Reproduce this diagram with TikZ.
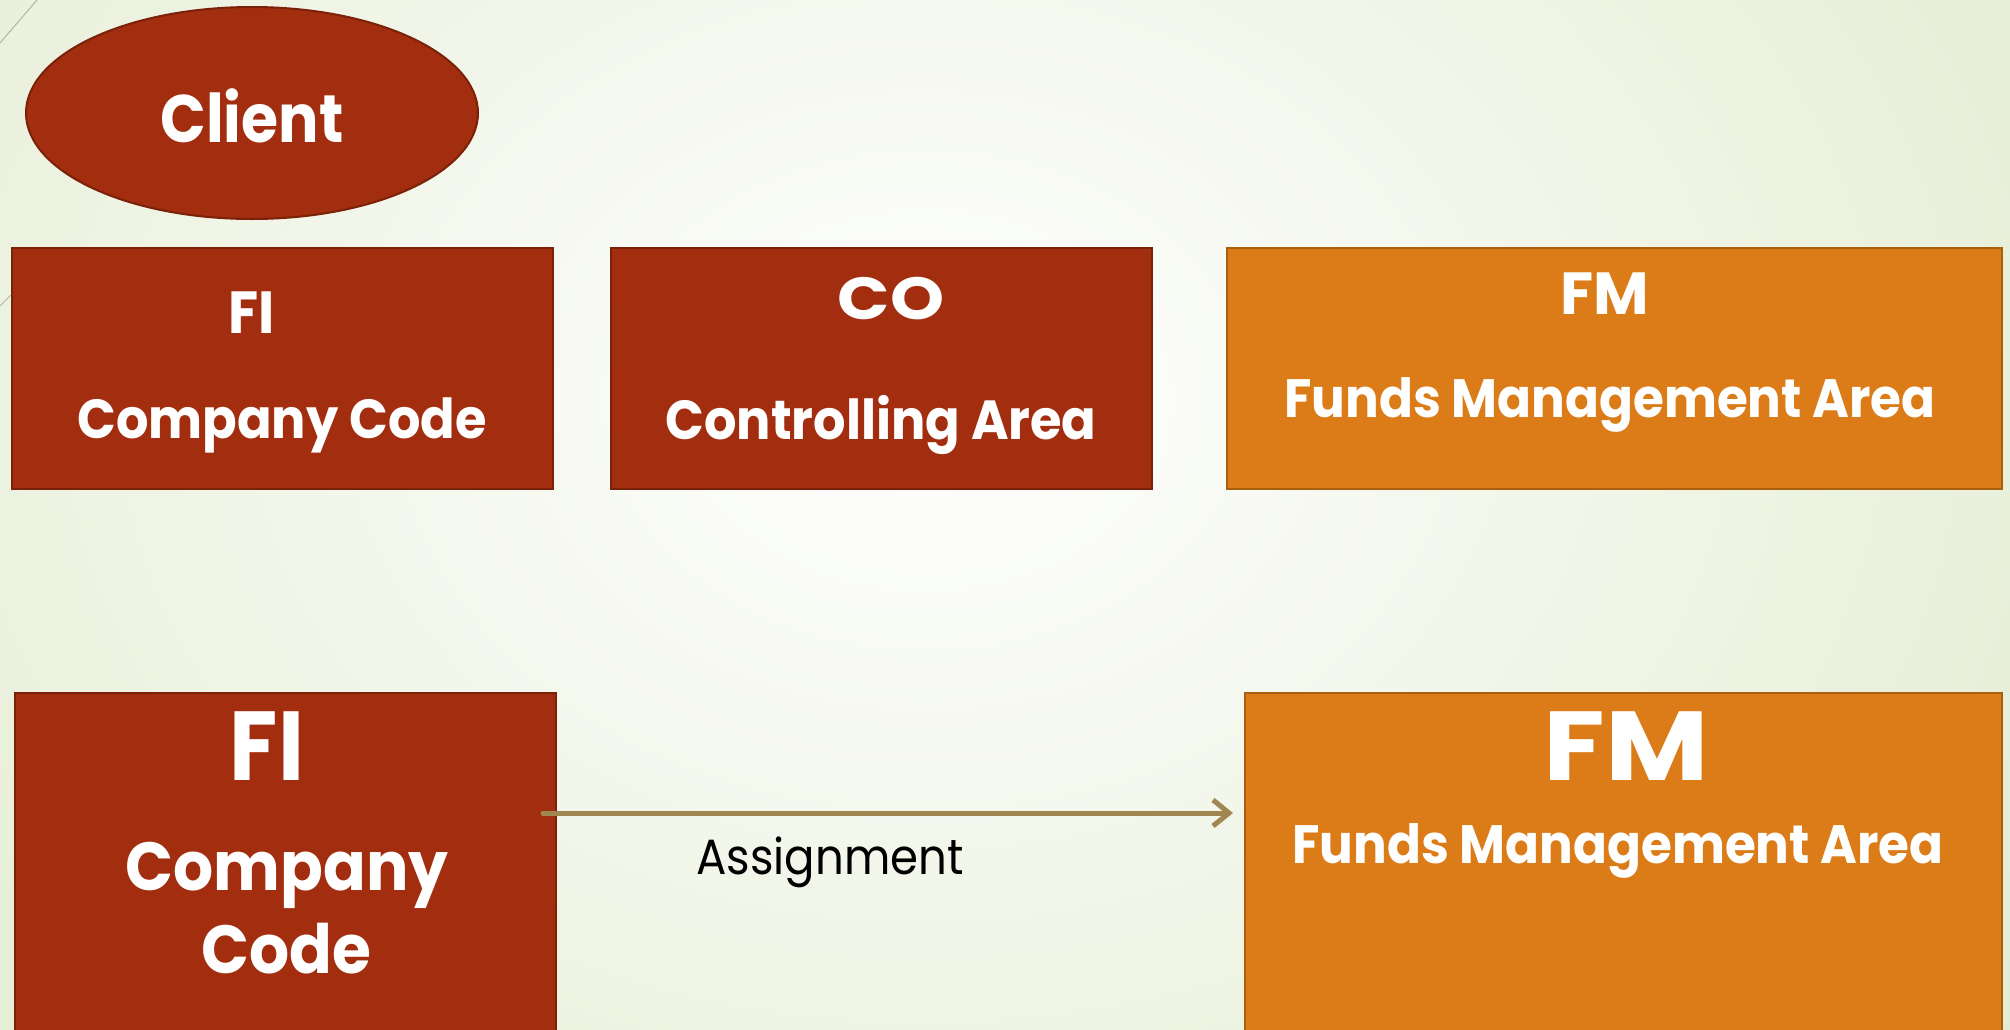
\documentclass[tikz,border=0pt]{standalone}
\usepackage{fontspec}
\setmainfont{Poppins}
\usetikzlibrary{shapes.geometric,arrows.meta}
\definecolor{rustfill}{HTML}{A22E0F}
\definecolor{rustline}{HTML}{7A2108}
\definecolor{orfill}{HTML}{DB7C18}
\definecolor{orline}{HTML}{A8600F}
\definecolor{bgg}{HTML}{E2EBCF}
\definecolor{arrowc}{HTML}{A08650}
\tikzset{
  rustbox/.style={draw=rustline, fill=rustfill, line width=2pt, rectangle, inner sep=0pt},
  orbox/.style={draw=orline, fill=orfill, line width=2pt, rectangle, inner sep=0pt},
  wtxt/.style={text=white, font=\bfseries, inner sep=0pt, anchor=center, transform shape},
}
\begin{document}
\begin{tikzpicture}[x=1pt,y=-1pt]
\clip (0,0) rectangle (2010,1029);
\useasboundingbox (0,0) rectangle (2010,1029);
\shade[inner color=white, outer color=bgg] (-500,-700) rectangle (2350,1500);
\draw[gray!60, line width=1pt] (0,43) -- (37,0);
\draw[gray!60, line width=1pt] (0,306) -- (14,292);

\node[ellipse, draw=rustline, fill=rustfill, line width=2pt, minimum width=452pt, minimum height=212pt] (client) at (252,113) {};
\node[wtxt, yscale=1.12, font=\bfseries\fontsize{60}{70}\selectfont] (clientt) at (252,116) {Client};

\node[rustbox, minimum width=541pt, minimum height=241pt] (fi1) at (282,368) {};
\node[rustbox, minimum width=541pt, minimum height=241pt] (co1) at (881,368) {};
\node[orbox, minimum width=775pt, minimum height=241pt] (fm1) at (1614,368) {};

\node[wtxt, yscale=1.08, font=\bfseries\fontsize{55}{60}\selectfont] (fi1a) at (252,313) {FI};
\node[wtxt, yscale=1.08, font=\bfseries\fontsize{51}{56}\selectfont] (fi1b) at (282,425) {Company Code};
\node[wtxt, yscale=1.08, xscale=1.25, font=\bfseries\fontsize{55}{60}\selectfont] (co1a) at (891,299) {CO};
\node[wtxt, yscale=1.08, font=\bfseries\fontsize{51}{56}\selectfont] (co1b) at (881,425) {Controlling Area};
\node[wtxt, yscale=1.08, xscale=1.1, font=\bfseries\fontsize{55}{60}\selectfont] (fm1a) at (1605,294) {FM};
\node[wtxt, yscale=1.08, font=\bfseries\fontsize{50}{56}\selectfont] (fm1b) at (1610,405) {Funds Management Area};

\node[rustbox, minimum width=541pt, minimum height=360pt] (fi2) at (285.5,873) {};
\node[orbox, minimum width=757pt, minimum height=360pt] (fm2) at (1623.5,873) {};

\node[wtxt, xscale=0.9, font=\bfseries\fontsize{98}{100}\selectfont] (fi2a) at (267,746) {FI};
\node[wtxt, yscale=1.08, font=\bfseries\fontsize{63}{70}\selectfont] (fi2b) at (287,875) {Company};
\node[wtxt, yscale=1.08, font=\bfseries\fontsize{63}{70}\selectfont] (fi2c) at (286,949) {Code};
\node[wtxt, xscale=1.15, font=\bfseries\fontsize{98}{100}\selectfont] (fm2a) at (1626,746) {FM};
\node[wtxt, yscale=1.08, font=\bfseries\fontsize{50}{56}\selectfont] (fm2b) at (1618,851) {Funds Management Area};

\coordinate (as) at (543,813);
\coordinate (ae) at (1233,813);
\draw[arrowc, line width=5pt, line cap=round, -{Straight Barb[length=16pt,width=26pt]}] (as) -- (ae);
\node[inner sep=0pt, yscale=1.1, transform shape, font=\fontsize{45}{50}\selectfont] (asg) at (830,862) {Assignment};
\end{tikzpicture}
\end{document}
